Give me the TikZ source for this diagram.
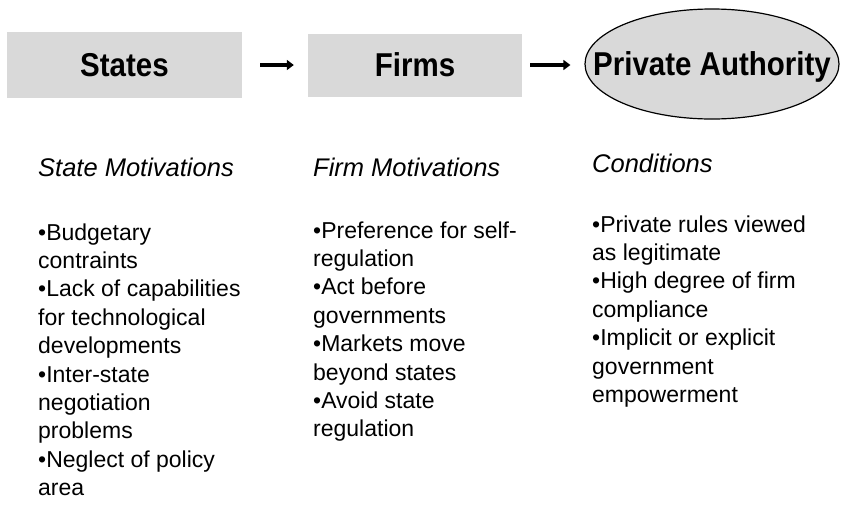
\documentclass[tikz,border=0pt]{standalone}
\usepackage{fontspec}
\setmainfont{Liberation Sans}
\usetikzlibrary{shapes.geometric,arrows.meta}
\newcommand{\tallish}[1]{\scalebox{1}[1.12]{#1}}
\begin{document}
\begin{tikzpicture}[x=1pt,y=1pt,
  titlebox/.style={fill=gray!30,minimum width=235pt,minimum height=66pt,inner sep=0pt,font=\fontsize{29.5}{32}\selectfont\bfseries},
  titleoval/.style={ellipse,draw=black,line width=1.2pt,fill=gray!30,minimum width=254pt,minimum height=110pt,inner xsep=-32pt,inner ysep=0pt,text depth=0pt,font=\fontsize{29.5}{32}\selectfont\bfseries},
  flow/.style={line width=4.5pt,-{Triangle[length=7pt,width=10pt]}},
  heading/.style={anchor=base west,inner sep=0pt,font=\fontsize{25.5}{28}\selectfont\itshape},
  bodytext/.style={anchor=north west,inner sep=0pt,align=left,font=\fontsize{23}{28.4}\selectfont}
]
\useasboundingbox (0,0) rectangle (842,-504);
\node[titlebox] (states) at (124.5,-65) {\tallish{States}};
\node[titlebox,minimum width=214pt,minimum height=63pt] (firms) at (415,-65) {\tallish{Firms}};
\node[titleoval] (pa) at (712,-64) {\tallish{Private Authority}};
\draw[flow,shorten <=18pt,shorten >=14pt] (states.east) -- (firms.west);
\draw[flow,shorten <=8pt,shorten >=14pt] (firms.east) -- (firms.east -| pa.west);

\node[heading] (h1) at (38,-176) {State Motivations};
\node[heading] (h2) at (313,-176) {Firm Motivations};
\node[heading] (h3) at (592,-172) {Conditions};

\node[bodytext] (c1) at (38,-223.2) {•Budgetary\\contraints\\•Lack of capabilities\\for technological\\developments\\•Inter-state\\negotiation\\problems\\•Neglect of policy\\area};
\node[bodytext] (c2) at (313,-221.2) {•Preference for self-\\regulation\\•Act before\\governments\\•Markets move\\beyond states\\•Avoid state\\regulation};
\node[bodytext] (c3) at (592,-215.2) {•Private rules viewed\\as legitimate\\•High degree of firm\\compliance\\•Implicit or explicit\\government\\empowerment};
\end{tikzpicture}
\end{document}
